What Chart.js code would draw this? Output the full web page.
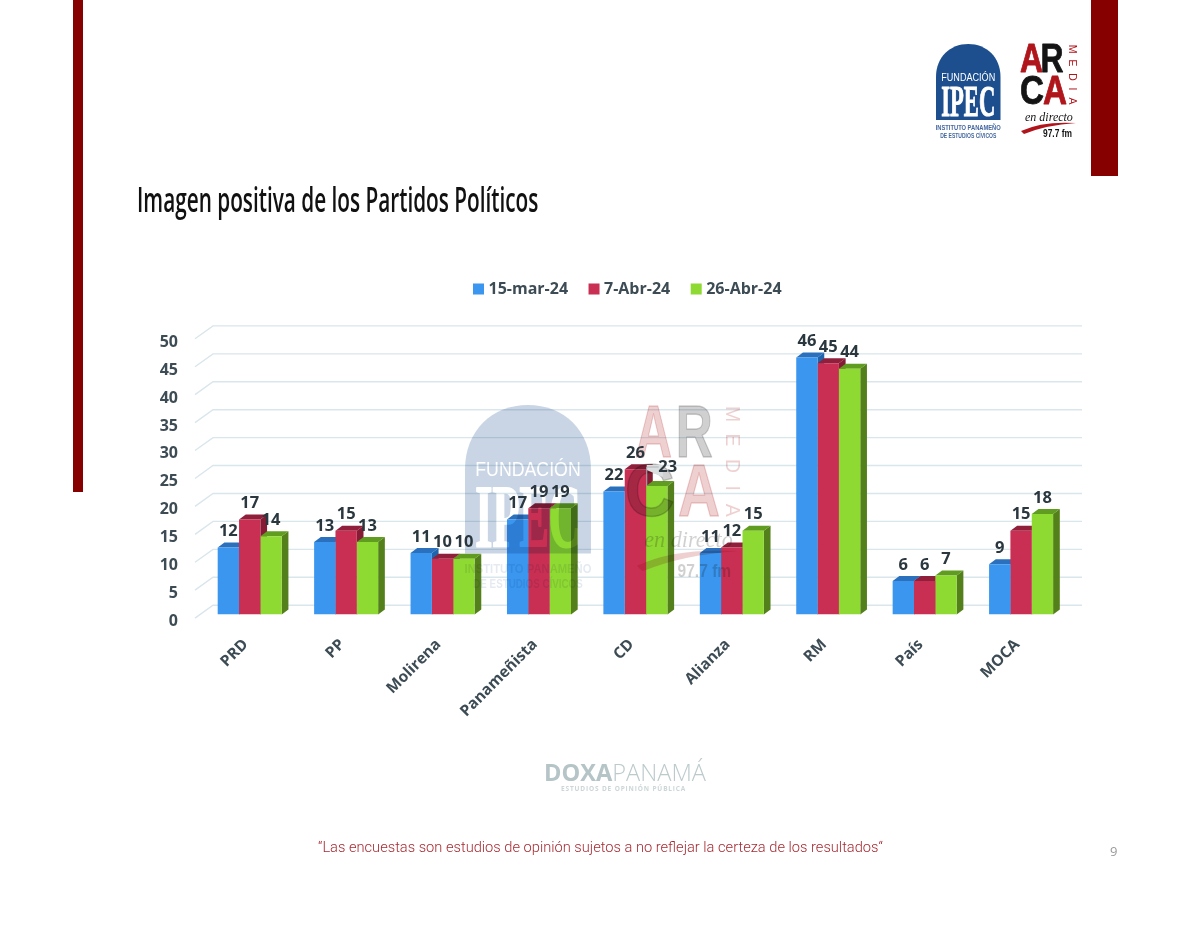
<!DOCTYPE html>
<html lang="es">
<head>
<meta charset="utf-8">
<title>Imagen positiva de los Partidos Políticos</title>
<script src="https://cdn.jsdelivr.net/npm/chart.js@4"></script>
<style>
html,body{margin:0;padding:0;background:#fff;width:1200px;height:927px;overflow:hidden}
#page{position:relative;width:1200px;height:927px}
#page canvas{position:absolute;left:0;top:0}
.bar{position:absolute;background:#860000}
.t{position:absolute;white-space:nowrap;margin:0;line-height:1}
#title{left:137px;top:175px;font:600 35px "Open Sans",sans-serif;color:#111;transform-origin:0 0;transform:scaleX(.593)}
#foot{left:318px;top:838px;font:300 14.65px Roboto,sans-serif;color:#a62b33}
#num{left:1110px;top:842px;font:400 13px "Open Sans",sans-serif;color:#9a9a9a}
#doxa{left:544px;top:756px;font:400 23.6px "Open Sans",sans-serif;color:#bccacc}
#doxa b{font-weight:700;color:#b4c4c7}
#doxa span{font-weight:300}
#doxasub{left:561px;top:784px;font:700 6.5px "Open Sans",sans-serif;letter-spacing:.85px;color:#ccd6d8}
</style>
</head>
<body>
<div id="page">
<canvas id="c" width="1200" height="927"></canvas>
<div class="bar" style="left:73px;top:0;width:10px;height:492px"></div>
<div class="bar" style="left:1091px;top:0;width:27px;height:176px"></div>
<h1 class="t" id="title">Imagen positiva de los Partidos Políticos</h1>
<div class="t" id="doxa"><b>DOXA</b><span>PANAMÁ</span></div>
<div class="t" id="doxasub">ESTUDIOS DE OPINIÓN PÚBLICA</div>
<p class="t" id="foot">“Las encuestas son estudios de opinión sujetos a no reflejar la certeza de los resultados“</p>
<div class="t" id="num">9</div>
</div>
<script>
const categories = ["PRD","PP","Molirena","Panameñista","CD","Alianza","RM","País","MOCA"];
const seriesNames = ["15-mar-24","7-Abr-24","26-Abr-24"];
const marzo15 = [12,13,11,17,22,11,46,6,9];
const abril7 = [17,15,10,19,26,12,45,6,15];
const abril26 = [14,13,10,19,23,15,44,7,18];

const frontColors = ["#3a96ee","#c92f53","#8fd933"];
const topColors = ["#2a70bd","#8f1f3a","#5f9c1f"];
const sideColors = ["#1f65ad","#851b34","#54801b"];
const inkAxis = "#3d4c54", inkLabel = "#2a373e";
const DX = 6.7, DY = 5;

function fitText(ctx, text, cx, y, w, font, bold){
  ctx.save();
  ctx.font = font; ctx.textAlign = "center"; ctx.textBaseline = "alphabetic";
  const m = ctx.measureText(text).width;
  ctx.translate(cx, y); ctx.scale(w / m, 1);
  if (bold) { ctx.strokeStyle = ctx.fillStyle; ctx.lineWidth = bold; ctx.lineJoin = "round"; ctx.strokeText(text, 0, 0); }
  ctx.fillText(text, 0, 0);
  ctx.restore();
}
function drawIpec(ctx, x, y, s, domeAlpha, small){
  ctx.save();
  ctx.translate(x, y); ctx.scale(s, s);
  ctx.globalAlpha = domeAlpha;
  ctx.fillStyle = "#1d4f8f";
  ctx.beginPath();
  ctx.moveTo(0,76); ctx.lineTo(0,33);
  ctx.bezierCurveTo(0,13,14,0,32.25,0);
  ctx.bezierCurveTo(50.5,0,64.5,13,64.5,33);
  ctx.lineTo(64.5,76); ctx.closePath(); ctx.fill();
  ctx.globalAlpha = 1;
  ctx.fillStyle = "#fff";
  fitText(ctx,"FUNDACIÓN",32.25,36.5,54,'400 10px "Liberation Sans"');
  fitText(ctx,"IPEC",32.25,72,54,'700 45px "Liberation Serif"',1.1);
  ctx.globalAlpha = small;
  ctx.fillStyle = "#44689f";
  fitText(ctx,"INSTITUTO PANAMEÑO",32.25,86,65,'700 6.6px "Liberation Sans"');
  fitText(ctx,"DE ESTUDIOS CÍVICOS",32.25,93.5,56,'700 6.6px "Liberation Sans"');
  ctx.restore();
}
function drawArca(ctx, x, y, s, alpha, g){
  const red = "#b0151b", blk = "#141414";
  ctx.save();
  ctx.translate(x, y); ctx.scale(s, s);
  ctx.globalAlpha = alpha;
  const big = '700 40px "Liberation Sans"';
  ctx.fillStyle = red; fitText(ctx,"A",g[0],29,g[1],big,.8);
  ctx.fillStyle = blk; fitText(ctx,"R",g[2],29,g[3],big,.8);
  ctx.fillStyle = blk; fitText(ctx,"C",g[4],61,g[5],big,.8);
  ctx.fillStyle = red; fitText(ctx,"A",g[6],61,g[7],big,.8);
  ctx.fillStyle = red; ctx.font = '400 10.5px "Liberation Sans"';
  ctx.textAlign = "center"; ctx.textBaseline = "middle";
  [["M",6],["E",20],["D",34],["I",46],["A",58]].forEach(([ch,dy])=>{
    ctx.save(); ctx.translate(52,dy); ctx.rotate(Math.PI/2); ctx.fillText(ch,0,0); ctx.restore();
  });
  ctx.fillStyle = blk; ctx.font = 'italic 400 12px "Liberation Serif"';
  ctx.textBaseline = "alphabetic"; ctx.textAlign = "left";
  ctx.fillText("en directo",5,78);
  ctx.fillStyle = red;
  ctx.beginPath(); ctx.moveTo(1,88); ctx.quadraticCurveTo(22,78,56,80);
  ctx.quadraticCurveTo(26,82,4,91); ctx.closePath(); ctx.fill();
  ctx.fillStyle = blk;
  fitText(ctx,"97.7 fm",37.5,94,29,'700 10px "Liberation Sans"');
  ctx.restore();
}
function watermark(){
  const c = document.createElement("canvas");
  c.width = 1200; c.height = 927;
  const k = c.getContext("2d");
  k.fillStyle = "#fff"; k.fillRect(0,0,1200,927);
  drawIpec(k,465,405,1.953,.24,.14);
  drawArca(k,635,403,1.85,.2,[10,20,32,20,8,27,34.6,22.7]);
  return c;
}

const scene3d = {
  id:"scene3d",
  afterLayout(chart){
    const lg = chart.legend;
    lg.left = 452.5; lg.top = 257;
  },
  beforeDatasetsDraw(chart){
    const ctx = chart.ctx, y = chart.scales.y;
    ctx.save();
    ctx.strokeStyle = "#d9e6ec"; ctx.lineWidth = 1.4;
    y.ticks.forEach(t=>{
      const p = y.getPixelForValue(t.value);
      ctx.beginPath();
      ctx.moveTo(195, p + 3.6);
      ctx.lineTo(213, p - 9.3);
      ctx.lineTo(1082, p - 9.3);
      ctx.stroke();
    });
    chart.data.datasets.forEach((ds,i)=>{
      chart.getDatasetMeta(i).data.forEach(el=>{
        const l = el.x - el.width/2, r = el.x + el.width/2, tp = el.y, b = el.base;
        ctx.fillStyle = sideColors[i];
        ctx.beginPath(); ctx.moveTo(r,tp); ctx.lineTo(r+DX,tp-DY); ctx.lineTo(r+DX,b-DY); ctx.lineTo(r,b); ctx.closePath(); ctx.fill();
        ctx.fillStyle = topColors[i];
        ctx.beginPath(); ctx.moveTo(l,tp); ctx.lineTo(l+DX,tp-DY); ctx.lineTo(r+DX,tp-DY); ctx.lineTo(r,tp); ctx.closePath(); ctx.fill();
      });
    });
    ctx.restore();
  },
  afterDatasetsDraw(chart){
    const ctx = chart.ctx;
    drawIpec(ctx,936,44,1,1,1);
    drawArca(ctx,1020,43,1,1,[11.5,23,32,23,12,24,35,24]);
    ctx.save();
    ctx.globalCompositeOperation = "multiply";
    ctx.drawImage(watermark(),0,0);
    ctx.restore();
    ctx.save();
    const cd = chart.getDatasetMeta(2).data[4];
    ctx.fillStyle = "#dcdfdf";
    ctx.beginPath(); ctx.moveTo(cd.x-10,465); ctx.lineTo(cd.x+6,465); ctx.lineTo(cd.x+6,477); ctx.lineTo(cd.x-10,470); ctx.closePath(); ctx.fill();
    ctx.strokeStyle = "#aeb4b4"; ctx.lineWidth = 1;
    ctx.beginPath(); ctx.moveTo(cd.x+2,467); ctx.lineTo(cd.x-10,467); ctx.lineTo(cd.x-10,cd.y); ctx.stroke();
    ctx.fillStyle = inkLabel; ctx.font = '700 16.5px "Open Sans"';
    ctx.textAlign = "center"; ctx.textBaseline = "middle";
    chart.data.datasets.forEach((ds,i)=>{
      chart.getDatasetMeta(i).data.forEach((el,j)=>{
        const moved = i===2 && j===4;
        ctx.fillText(String(ds.data[j]), el.x + (moved?11:0), el.y - (moved?19:16));
      });
    });
    ctx.restore();
  }
};

new Chart(document.getElementById("c"),{
  type:"bar",
  data:{
    labels:categories,
    datasets:[marzo15,abril7,abril26].map((d,i)=>({
      label:seriesNames[i], data:d, backgroundColor:frontColors[i], borderWidth:0,
      categoryPercentage:.664, barPercentage:1
    }))
  },
  options:{
    responsive:false, animation:false, devicePixelRatio:1,
    layout:{padding:{left:150,right:130.7,top:285.2,bottom:0}},
    plugins:{
      tooltip:{enabled:false},
      title:{display:false},
      legend:{
        position:"top", align:"start",
        labels:{
          usePointStyle:true, pointStyle:"rect", boxWidth:4, boxHeight:11, padding:24,
          color:inkAxis, font:{family:"Open Sans",size:16,weight:"700"}
        }
      }
    },
    scales:{
      x:{
        grid:{display:false,drawTicks:false}, border:{display:false},
        afterFit(s){s.height=312.5},
        ticks:{autoSkip:false,minRotation:45,maxRotation:45,padding:21,labelOffset:-4,color:inkAxis,font:{family:"Open Sans",size:15.5,weight:"700"}}
      },
      y:{
        min:0,max:50,
        grid:{display:false,drawTicks:false}, border:{display:false},
        afterFit(s){s.width=51.5},
        ticks:{stepSize:5,padding:23.5,labelOffset:7,color:inkAxis,font:{family:"Open Sans",size:16,weight:"700"}}
      }
    }
  },
  plugins:[scene3d]
});
</script>
</body>
</html>
